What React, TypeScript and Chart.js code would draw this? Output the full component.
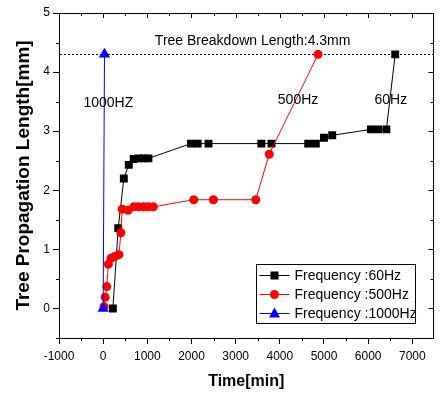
import { useEffect, useRef } from "react";
import { Chart, registerables } from "chart.js";

Chart.register(...registerables);

// ---- data ----
const time60 = [220, 341, 468, 580, 691, 802, 914, 1025, 1990, 2140, 2385, 3582, 3812, 4643, 4815, 5000, 5187, 6063, 6227, 6413, 6613];
const len60 = [0, 1.36, 2.2, 2.43, 2.53, 2.54, 2.54, 2.54, 2.79, 2.79, 2.79, 2.79, 2.79, 2.79, 2.79, 2.89, 2.93, 3.03, 3.03, 3.03, 4.3];

const time500 = [20, 45, 82, 118, 180, 260, 357, 401, 430, 564, 691, 802, 914, 1025, 1137, 2051, 2497, 3455, 3760, 4866];
const len500 = [0.03, 0.19, 0.37, 0.75, 0.85, 0.88, 0.91, 1.28, 1.68, 1.66, 1.72, 1.72, 1.72, 1.72, 1.72, 1.84, 1.84, 1.84, 2.61, 4.3];

const time1000 = [0, 30];
const len1000 = [0, 4.3];

const seriesLabels = ["Frequency :60Hz", "Frequency :500Hz", "Frequency :1000Hz"];

const xTickValues = [-1000, 0, 1000, 2000, 3000, 4000, 5000, 6000, 7000];
const yTickValues = [0, 1, 2, 3, 4, 5];
const xMinorValues = [-500, 500, 1500, 2500, 3500, 4500, 5500, 6500, 7500];
const yMinorValues = [-0.5, 0.5, 1.5, 2.5, 3.5, 4.5];

const breakdownLength = 4.3;
const breakdownText = "Tree Breakdown Length:4.3mm";
const breakdownTextPos = [3385, 4.53];

const annoTexts = ["1000HZ", "500Hz", "60Hz"];
const annoX = [118, 4413, 6515];
const annoY = [3.47, 3.52, 3.52];

const FONT = "'Liberation Sans', Arial, Helvetica, sans-serif";

function toXY(xs: number[], ys: number[]) {
  return xs.map((x, i) => ({ x, y: ys[i] }));
}

export default function App() {
  const ref = useRef<HTMLCanvasElement>(null);

  useEffect(() => {
    if (!ref.current) return;

    const decorPlugin = {
      id: "decor",
      beforeDatasetsDraw(chart: any) {
        const { ctx, chartArea, scales } = chart;
        const y = scales.y.getPixelForValue(breakdownLength);
        ctx.save();
        ctx.strokeStyle = "#000";
        ctx.lineWidth = 1;
        ctx.setLineDash([2, 2]);
        ctx.beginPath();
        ctx.moveTo(chartArea.left + 1, Math.round(y) + 0.5);
        ctx.lineTo(chartArea.right, Math.round(y) + 0.5);
        ctx.stroke();
        ctx.restore();
      },
      afterDraw(chart: any) {
        const { ctx, chartArea, scales } = chart;
        const xs = scales.x;
        const ys = scales.y;
        const L = chartArea.left, R = chartArea.right, T = chartArea.top, B = chartArea.bottom;
        ctx.save();
        ctx.strokeStyle = "#000";
        ctx.lineWidth = 1;
        // frame top & right
        ctx.beginPath();
        ctx.moveTo(L, Math.round(T) + 0.5);
        ctx.lineTo(R, Math.round(T) + 0.5);
        ctx.moveTo(Math.round(R) - 0.5, T);
        ctx.lineTo(Math.round(R) - 0.5, B);
        ctx.stroke();
        ctx.beginPath();
        // minor ticks bottom (outward) and top (inward)
        for (const v of xMinorValues) {
          const px = Math.round(xs.getPixelForValue(v)) + 0.5;
          if (px > R) continue;
          ctx.moveTo(px, B);
          ctx.lineTo(px, B + 3);
          ctx.moveTo(px, T);
          ctx.lineTo(px, T + 3);
        }
        for (const v of xTickValues) {
          const px = Math.round(xs.getPixelForValue(v)) + 0.5;
          ctx.moveTo(px, T);
          ctx.lineTo(px, T + 5);
        }
        for (const v of yMinorValues) {
          const py = Math.round(ys.getPixelForValue(v)) + 0.5;
          ctx.moveTo(L - 3, py);
          ctx.lineTo(L, py);
          ctx.moveTo(R, py);
          ctx.lineTo(R - 3, py);
        }
        for (const v of yTickValues) {
          const py = Math.round(ys.getPixelForValue(v)) + 0.5;
          ctx.moveTo(R, py);
          ctx.lineTo(R - 5, py);
        }
        ctx.stroke();

        // annotation texts
        ctx.fillStyle = "#000";
        ctx.font = `14px ${FONT}`;
        ctx.textAlign = "center";
        ctx.textBaseline = "middle";
        ctx.fillText(breakdownText, xs.getPixelForValue(breakdownTextPos[0]), ys.getPixelForValue(breakdownTextPos[1]));
        annoTexts.forEach((t, i) => {
          ctx.fillText(t, xs.getPixelForValue(annoX[i]), ys.getPixelForValue(annoY[i]));
        });

        // legend
        const bw = 159, bh = 59;
        const bx = Math.round(R - 19 - bw) + 0.5;
        const by = Math.round(B - 15 - bh) + 0.5;
        ctx.fillStyle = "#fff";
        ctx.fillRect(bx, by, bw, bh);
        ctx.strokeStyle = "#000";
        ctx.strokeRect(bx, by, bw, bh);
        const ds = chart.data.datasets;
        ds.forEach((d: any, i: number) => {
          const ry = by + 11 + i * 19;
          const lx0 = bx + 3, lx1 = bx + 33, mx = bx + 18;
          ctx.strokeStyle = d.borderColor;
          ctx.lineWidth = 1;
          ctx.beginPath();
          ctx.moveTo(lx0, ry);
          ctx.lineTo(lx1, ry);
          ctx.stroke();
          ctx.fillStyle = d.pointBackgroundColor;
          ctx.beginPath();
          if (d.pointStyle === "rect") {
            ctx.rect(mx - 4, ry - 4, 8, 8);
          } else if (d.pointStyle === "circle") {
            ctx.arc(mx, ry, 4.5, 0, Math.PI * 2);
          } else {
            ctx.moveTo(mx, ry - 6);
            ctx.lineTo(mx + 5.5, ry + 4);
            ctx.lineTo(mx - 5.5, ry + 4);
            ctx.closePath();
          }
          ctx.fill();
          ctx.fillStyle = "#000";
          ctx.font = `14px ${FONT}`;
          ctx.textAlign = "left";
          ctx.textBaseline = "middle";
          ctx.fillText(d.label, bx + 38, ry + 1);
        });
        ctx.restore();
      },
    };

    const chart = new Chart(ref.current, {
      type: "scatter",
      data: {
        datasets: [
          {
            label: seriesLabels[0],
            data: toXY(time60, len60),
            showLine: true,
            borderColor: "#000",
            backgroundColor: "#000",
            pointBackgroundColor: "#000",
            pointBorderColor: "#000",
            borderWidth: 1,
            pointStyle: "rect",
            pointRadius: 5.6,
            pointBorderWidth: 0,
            order: 3,
          },
          {
            label: seriesLabels[1],
            data: toXY(time500, len500),
            showLine: true,
            borderColor: "#ff0000",
            backgroundColor: "#ff0000",
            pointBackgroundColor: "#ff0000",
            pointBorderColor: "#ff0000",
            borderWidth: 1,
            pointStyle: "circle",
            pointRadius: 4.5,
            pointBorderWidth: 0,
            order: 2,
          },
          {
            label: seriesLabels[2],
            data: toXY(time1000, len1000),
            showLine: true,
            borderColor: "#0000ff",
            backgroundColor: "#0000ff",
            pointBackgroundColor: "#0000ff",
            pointBorderColor: "#0000ff",
            borderWidth: 1,
            pointStyle: "triangle",
            pointRadius: 6.5,
            pointBorderWidth: 0,
            order: 1,
          },
        ] as any,
      },
      options: {
        responsive: false,
        animation: false,
        layout: { padding: { top: 13, right: 1, left: 0, bottom: 0 } },
        plugins: {
          legend: { display: false },
          tooltip: { enabled: false },
        },
        scales: {
          x: {
            type: "linear",
            min: -1000,
            max: 7480,
            afterBuildTicks: (s: any) => {
              s.ticks = xTickValues.map((v) => ({ value: v }));
            },
            afterFit: (s: any) => {
              s.height = 56;
            },
            ticks: {
              color: "#000",
              font: { family: FONT, size: 12 },
              padding: 5,
              maxRotation: 0,
              autoSkip: false,
              callback: (v: any) => String(v),
            },
            grid: {
              display: true,
              drawOnChartArea: false,
              drawTicks: true,
              tickLength: 6,
              color: "#000",
              lineWidth: 1,
            },
            border: { display: true, color: "#000", width: 1 },
            title: {
              display: true,
              text: "Time[min]",
              color: "#000",
              font: { family: FONT, size: 16, weight: "bold" },
              padding: { top: 0, bottom: 3 },
            },
          },
          y: {
            type: "linear",
            min: -0.5,
            max: 5,
            afterBuildTicks: (s: any) => {
              s.ticks = yTickValues.map((v) => ({ value: v }));
            },
            afterFit: (s: any) => {
              s.width = 59;
            },
            ticks: {
              color: "#000",
              font: { family: FONT, size: 12 },
              padding: 3,
              autoSkip: false,
              callback: (v: any) => String(v),
            },
            grid: {
              display: true,
              drawOnChartArea: false,
              drawTicks: true,
              tickLength: 6,
              color: "#000",
              lineWidth: 1,
            },
            border: { display: true, color: "#000", width: 1 },
            title: {
              display: true,
              text: "Tree Propagation Length[mm]",
              color: "#000",
              font: { family: FONT, size: 19, weight: "bold" },
              padding: { top: 12, bottom: 0 },
            },
          },
        },
      } as any,
      plugins: [decorPlugin],
    });

    return () => chart.destroy();
  }, []);

  return (
    <div style={{ position: "absolute", left: 0, top: 0, width: 440, height: 394, background: "#fff" }}>
      <canvas ref={ref} width={440} height={394} style={{ display: "block" }} />
    </div>
  );
}
